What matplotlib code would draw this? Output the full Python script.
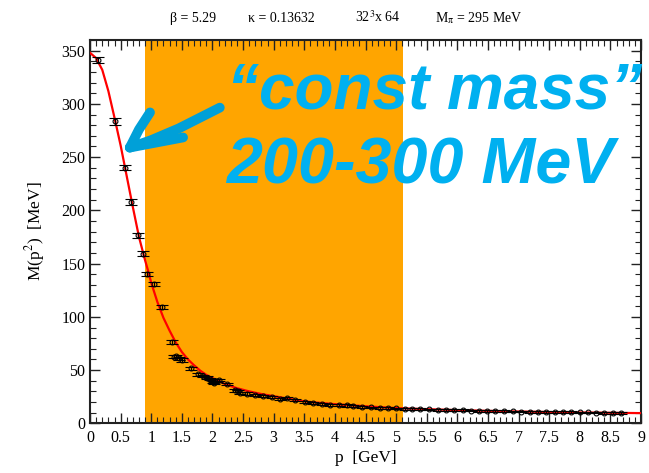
import numpy as np
import matplotlib.pyplot as plt
from matplotlib.ticker import MultipleLocator

# lattice quark mass function M(p^2), data points with errors
p_data = [0.136, 0.41, 0.57, 0.67, 0.78, 0.87, 0.93, 1.05, 1.17, 1.345,
          1.365, 1.41, 1.45, 1.50, 1.645, 1.77, 1.85, 1.91, 1.96, 2.01,
          2.03, 2.07, 2.10, 2.23, 2.37, 2.42, 2.45, 2.56, 2.70, 2.83,
          2.97, 3.10, 3.21, 3.35, 3.51, 3.65, 3.79, 3.92, 4.06, 4.19,
          4.30, 4.44, 4.59, 4.73, 4.86, 5.00, 5.14, 5.26, 5.39, 5.53,
          5.68, 5.82, 5.95, 6.09, 6.23, 6.35, 6.48, 6.62, 6.76, 6.91,
          7.04, 7.18, 7.32, 7.45, 7.59, 7.72, 7.86, 8.00, 8.13, 8.27,
          8.40, 8.54, 8.68]
m_data = [341, 283.5, 240, 208, 176.5, 159.5, 140, 131, 109, 76.5,
          62.5, 63, 61, 59.5, 51.5, 46, 44.5, 43, 41.5, 39,
          38, 40, 40.5, 37, 31, 30.5, 28.5, 28, 26.5, 25.5,
          24.5, 23, 23.5, 22, 20, 19, 18.5, 17.5, 17.5, 16.8,
          16.3, 15.6, 15.0, 14.6, 14.2, 14.0, 13.7, 13.5, 13.3, 13.0,
          12.7, 12.5, 12.3, 12.2, 12.0, 11.8, 11.7, 11.5, 11.3, 11.2,
          11.0, 10.9, 10.8, 10.7, 10.6, 10.5, 10.4, 10.3, 10.2, 10.1,
          10.0, 9.9, 9.8]
m_err = [3, 3, 2.5, 2.5, 2, 2, 2, 2, 2, 2,
         1.5, 1.5, 1.5, 1.5, 1.5, 1.2, 1.2, 1.2, 1.2, 1.2,
         1.2, 1.2, 1.2, 1.2, 1.2, 1.2, 1, 1, 1, 1,
         1, 1, 1, 1, 1, 1, 1, 1, 1, 1,
         1, 0.8, 0.8, 0.8, 0.8, 0.8, 0.8, 0.8, 0.8, 0.8,
         0.8, 0.8, 0.8, 0.8, 0.8, 0.8, 0.8, 0.8, 0.8, 0.8,
         0.8, 0.8, 0.8, 0.8, 0.8, 0.8, 0.8, 0.8, 0.8, 0.8,
         0.8, 0.8, 0.8]

# fit curve
p_fit = [0.0, 0.1, 0.2, 0.3, 0.4, 0.5, 0.6, 0.7, 0.8, 0.9, 0.95, 1.0, 1.1,
         1.2, 1.3, 1.4, 1.5, 1.6, 1.7, 1.8, 1.9, 2.0, 2.2, 2.4, 2.6, 2.8,
         3.0, 3.2, 3.4, 3.6, 3.8, 4.0, 4.5, 5.0, 5.5, 6.0, 6.5, 7.0, 7.5,
         8.0, 8.5, 9.0]
m_fit = [348, 343, 332, 312, 287, 261, 232, 203, 175, 153, 143, 132, 114,
         99, 87, 76, 67, 60, 54.5, 49.5, 45.5, 42.5, 37, 33, 30, 27.5,
         25.5, 23.5, 21.5, 20, 19, 18, 16, 14.3, 13.3, 12.4, 11.7, 11.1, 10.6,
         10.2, 9.9, 9.6]

band = (0.9, 5.12)
blue = '#00B0F0'

plt.rcParams['font.family'] = ['Liberation Serif', 'DejaVu Serif']
plt.rcParams['mathtext.fontset'] = 'stix'
fig = plt.figure(figsize=(6.49, 4.73), dpi=100)
ax = fig.add_axes([0.1387, 0.105, 0.849, 0.8104])

ax.axvspan(band[0], band[1], color='#FFA500', lw=0, zorder=0)
ax.plot(p_fit, m_fit, color='red', lw=1.6, zorder=3)
ax.errorbar(p_data, m_data, yerr=m_err, fmt='o', ms=3.5, mfc='none',
            mec='black', mew=0.8, ecolor='black', elinewidth=0.9,
            capsize=4, capthick=0.9, zorder=4)

ax.set_xlim(0, 9)
ax.set_ylim(0, 360)
ax.xaxis.set_minor_locator(MultipleLocator(0.1))
ax.yaxis.set_major_locator(MultipleLocator(50))
ax.yaxis.set_minor_locator(MultipleLocator(10))
xt = np.arange(0, 9.01, 0.5)
ax.set_xticks(xt)
ax.set_xticklabels(['%g' % v for v in xt])
ax.tick_params(which='both', direction='in', top=True, right=True,
               labelsize=11.5, colors='#222222', labelcolor='black')
ax.tick_params(which='major', length=7, width=1)
ax.tick_params(which='minor', length=4, width=0.8)
ax.tick_params(axis='x', pad=5)
for s in ax.spines.values():
    s.set_linewidth(1.5)
    s.set_color('#222222')

ax.set_xlabel('p  [GeV]', fontsize=12.5, labelpad=3)
ax.set_ylabel('M(p$^2$)  [MeV]', fontsize=12.5, labelpad=10)

# run parameters above the frame
for x, s in [(170, '\u03b2 = 5.29'), (248, '\u03ba = 0.13632'),
             (355, '32$^3$x 64'), (435, 'M$_{\\mathrm{\u03c0}}$ = 295 MeV')]:
    fig.text(x / 649, 1 - 22 / 473, s, fontsize=10, ha='left', va='baseline')

# annotation text and hand-drawn arrow
txt_font = ['Liberation Sans', 'DejaVu Sans']
ax.text(2.24, 296, '\u201cconst mass\u201d', fontsize=46, color=blue,
        fontweight='bold', style='italic', family=txt_font, va='baseline',
        zorder=5)
ax.text(2.22, 225, '200-300 MeV', fontsize=46.5, color=blue,
        fontweight='bold', style='italic', family=txt_font, va='baseline',
        zorder=5)
arrow_kw = dict(color='#00A0D8', lw=7, solid_capstyle='round', zorder=5)
ax.plot([2.12, 1.45, 1.0, 0.65], [296.5, 277, 266, 259], **arrow_kw)
ax.plot([0.65, 0.8, 0.98], [259, 276, 292], **arrow_kw)
ax.plot([0.65, 1.52], [259, 268.5], **arrow_kw)

fig.savefig('out.png', dpi=100)
